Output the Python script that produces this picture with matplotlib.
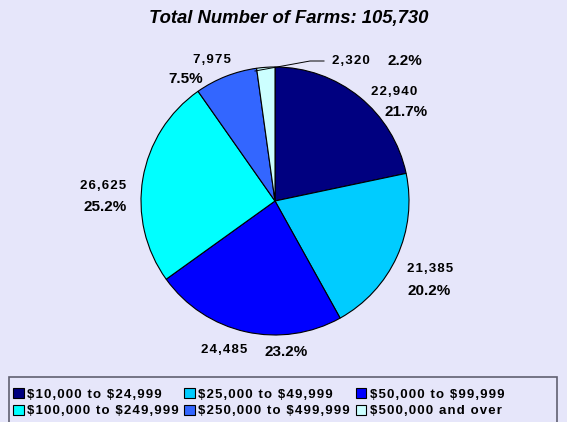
import matplotlib
matplotlib.use("Agg")
import matplotlib.pyplot as plt
from matplotlib.patches import Rectangle, Patch

categories = ["$10,000 to $24,999", "$25,000 to $49,999", "$50,000 to $99,999",
              "$100,000 to $249,999", "$250,000 to $499,999", "$500,000 and over"]
farms = [22940, 21385, 24485, 26625, 7975, 2320]
percents = ["21.7%", "20.2%", "23.2%", "25.2%", "7.5%", "2.2%"]
colors = ["#000080", "#00CCFF", "#0000FF", "#00FFFF", "#3366FF", "#CCFFFF"]
title = "Total Number of Farms: 105,730"

W, H = 567, 422
BG = "#E6E6FA"
plt.rcParams['font.family'] = ['Liberation Sans', 'DejaVu Sans']
plt.rcParams['text.parse_math'] = False

def spaced(s):
    return "\u200a".join(s)

fig = plt.figure(figsize=(W / 100, H / 100), dpi=100, facecolor=BG)
ax = fig.add_axes([0, 0, 1, 1])
ax.set_facecolor(BG)

def Y(py):
    return H - py

ax.pie(farms, colors=colors, startangle=90, counterclock=False,
       center=(275, Y(201)), radius=134, frame=True,
       wedgeprops=dict(edgecolor='black', linewidth=0.8))
ax.set_xlim(0, W)
ax.set_ylim(0, H)
ax.set_aspect('equal')
ax.axis('off')

ax.text(289, Y(19), title, ha='center', va='center', fontsize=13.3,
        fontweight='bold', style='italic')

num_pos = [(394, 92), (430, 269), (224, 350), (103, 186), (212, 60), (351, 61)]
pct_pos = [(406, 112), (429, 291), (286, 352), (105, 207), (186, 79), (405, 61)]
for i in range(len(farms)):
    nx, ny = num_pos[i]
    px, py = pct_pos[i]
    ax.text(nx, Y(ny), spaced(f"{farms[i]:,}"),
            ha='center', va='center', fontsize=9.5, fontweight='bold')
    ax.text(px, Y(py), percents[i], ha='center', va='center', fontsize=11,
            fontweight='bold')

# leader line for smallest slice
ax.plot([255, 310, 324], [Y(71), Y(61), Y(61)], color='black', linewidth=0.7)

# legend frame
fig.patches.append(Rectangle((9 / W, -0.05), (557 - 9) / W, (H - 377) / H + 0.05,
                             transform=fig.transFigure, facecolor=BG,
                             edgecolor='#606070', linewidth=1.2))
handles = [Patch(facecolor=c, edgecolor='black', linewidth=0.8) for c in colors]
order = [0, 3, 1, 4, 2, 5]
leg = fig.legend([handles[i] for i in order], [spaced(categories[i]) for i in order],
                 ncol=3, loc='upper left', bbox_to_anchor=(13 / W, 1 - 388 / H),
                 frameon=False, prop=dict(weight='bold', size=9.5),
                 handlelength=0.8, handleheight=0.8, handletextpad=0.25,
                 columnspacing=0.45, labelspacing=0.3, borderpad=0,
                 borderaxespad=0)

fig.savefig("out.png", dpi=100, facecolor=BG)
